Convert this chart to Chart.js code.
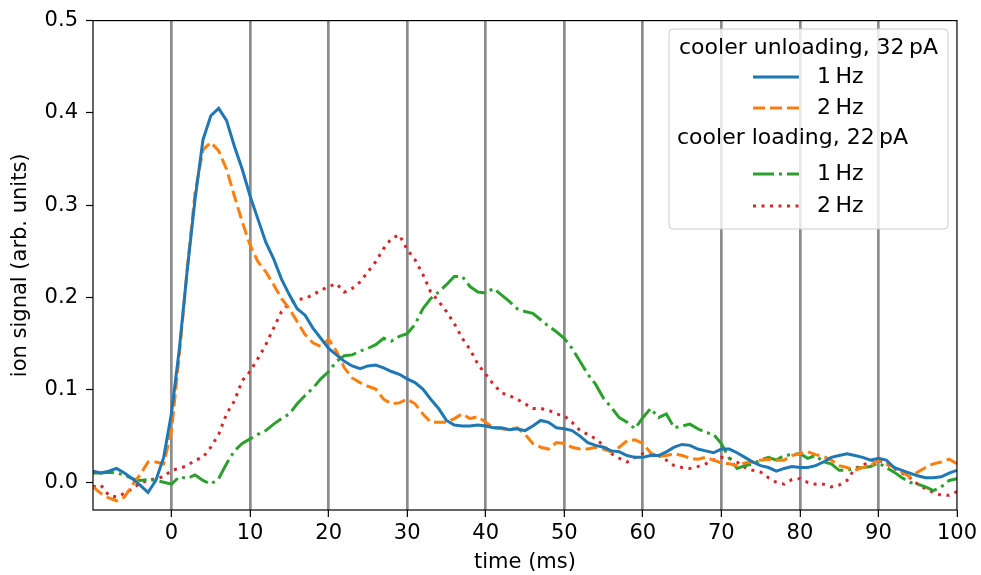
<!DOCTYPE html>
<html>
<head>
<meta charset="utf-8">
<script src="https://cdn.jsdelivr.net/npm/chart.js@4"></script>
<style>
  html, body { margin: 0; padding: 0; background: #fff; }
  canvas { display: block; }
</style>
</head>
<body>
<canvas id="ionChart" width="981" height="575"></canvas>
<script>
// time axis: one sample per ms from -10 to 100
const timeStart = -10;
const timeStep = 1;

// cooler unloading, 32 pA
const unload1Hz = [
  0.012, 0.010, 0.012, 0.015, 0.010, 0.004, -0.003, -0.011, 0.002, 0.027,
  0.075, 0.145, 0.230, 0.307, 0.371, 0.397, 0.405, 0.392, 0.364, 0.339,
  0.310, 0.285, 0.260, 0.242, 0.220, 0.203, 0.188, 0.181, 0.167, 0.156,
  0.145, 0.138, 0.131, 0.126, 0.123, 0.126, 0.127, 0.124, 0.120, 0.117,
  0.112, 0.108, 0.101, 0.090, 0.080, 0.067, 0.062, 0.061, 0.061, 0.062,
  0.061, 0.059, 0.059, 0.057, 0.058, 0.056, 0.061, 0.067, 0.065, 0.059,
  0.058, 0.056, 0.050, 0.043, 0.040, 0.038, 0.034, 0.033, 0.029, 0.027,
  0.027, 0.029, 0.029, 0.033, 0.038, 0.041, 0.040, 0.036, 0.034, 0.032,
  0.036, 0.036, 0.032, 0.027, 0.022, 0.018, 0.016, 0.012, 0.015, 0.017,
  0.016, 0.016, 0.018, 0.022, 0.027, 0.029, 0.031, 0.029, 0.027, 0.024,
  0.026, 0.024, 0.016, 0.013, 0.010, 0.007, 0.005, 0.005, 0.006, 0.010,
  0.013
];
const unload2Hz = [
  -0.005, -0.012, -0.017, -0.020, -0.016, -0.003, 0.008, 0.022, 0.022, 0.020,
  0.056, 0.139, 0.231, 0.314, 0.360, 0.368, 0.359, 0.339, 0.310, 0.282,
  0.257, 0.239, 0.228, 0.214, 0.199, 0.188, 0.174, 0.160, 0.151, 0.147,
  0.155, 0.142, 0.124, 0.113, 0.108, 0.104, 0.101, 0.090, 0.085, 0.086,
  0.090, 0.085, 0.074, 0.065, 0.065, 0.065, 0.069, 0.074, 0.069, 0.071,
  0.065, 0.059, 0.058, 0.057, 0.059, 0.052, 0.042, 0.038, 0.036, 0.043,
  0.042, 0.038, 0.036, 0.036, 0.038, 0.036, 0.033, 0.038, 0.045, 0.046,
  0.042, 0.032, 0.028, 0.029, 0.031, 0.029, 0.026, 0.025, 0.027, 0.024,
  0.021, 0.020, 0.018, 0.021, 0.022, 0.024, 0.025, 0.024, 0.024, 0.029,
  0.031, 0.033, 0.030, 0.028, 0.024, 0.018, 0.016, 0.013, 0.016, 0.018,
  0.024, 0.021, 0.016, 0.011, 0.006, 0.011, 0.016, 0.020, 0.022, 0.025,
  0.020
];

// cooler loading, 22 pA
const load1Hz = [
  0.010, 0.010, 0.011, 0.010, 0.008, 0.004, 0.002, 0.003, 0.002, 0.000,
  -0.002, 0.006, 0.004, 0.008, 0.002, -0.002, 0.004, 0.020, 0.034, 0.042,
  0.047, 0.052, 0.056, 0.063, 0.069, 0.074, 0.085, 0.094, 0.102, 0.112,
  0.120, 0.131, 0.137, 0.138, 0.142, 0.145, 0.149, 0.156, 0.153, 0.158,
  0.161, 0.171, 0.188, 0.199, 0.206, 0.214, 0.223, 0.223, 0.212, 0.206,
  0.205, 0.210, 0.203, 0.196, 0.188, 0.185, 0.183, 0.176, 0.169, 0.163,
  0.156, 0.145, 0.131, 0.117, 0.106, 0.091, 0.081, 0.070, 0.065, 0.058,
  0.070, 0.080, 0.070, 0.074, 0.059, 0.061, 0.063, 0.058, 0.054, 0.052,
  0.042, 0.026, 0.015, 0.018, 0.020, 0.024, 0.027, 0.024, 0.029, 0.030,
  0.031, 0.026, 0.029, 0.022, 0.020, 0.013, 0.013, 0.015, 0.016, 0.017,
  0.021, 0.016, 0.011, 0.005, 0.000, -0.002, -0.005, -0.009, -0.005, 0.002,
  0.004
];
const load2Hz = [
  -0.005, -0.003, -0.014, -0.016, -0.012, -0.007, -0.001, 0.002, 0.004, 0.006,
  0.013, 0.015, 0.018, 0.024, 0.027, 0.038, 0.052, 0.074, 0.088, 0.110,
  0.120, 0.134, 0.149, 0.167, 0.185, 0.194, 0.198, 0.199, 0.203, 0.208,
  0.212, 0.215, 0.206, 0.210, 0.217, 0.228, 0.239, 0.253, 0.264, 0.268,
  0.252, 0.241, 0.225, 0.206, 0.196, 0.185, 0.172, 0.156, 0.144, 0.128,
  0.117, 0.106, 0.097, 0.094, 0.090, 0.085, 0.080, 0.080, 0.078, 0.074,
  0.072, 0.065, 0.056, 0.052, 0.047, 0.040, 0.031, 0.026, 0.022, 0.027,
  0.031, 0.031, 0.029, 0.024, 0.018, 0.016, 0.015, 0.017, 0.020, 0.024,
  0.027, 0.026, 0.022, 0.016, 0.013, 0.011, 0.005, 0.000, -0.002, 0.003,
  0.004, 0.000, -0.002, -0.002, -0.005, -0.003, 0.002, 0.015, 0.018, 0.024,
  0.024, 0.020, 0.015, 0.010, 0.005, -0.002, -0.007, -0.011, -0.014, -0.014,
  -0.010
];

const xTicks = [0, 10, 20, 30, 40, 50, 60, 70, 80, 90, 100];
const yTicks = [0.0, 0.1, 0.2, 0.3, 0.4, 0.5];

const FONT = "'DejaVu Sans', sans-serif";
const FONT_SIZE = 21;
const LEGEND_FONT_SIZE = 22;

function toPoints(values) {
  return values.map((v, i) => ({ x: timeStart + i * timeStep, y: v }));
}

// legend layout: group headings and the entries under them
const legendRows = [
  { text: "cooler unloading, 32\u2009pA", heading: true },
  { text: "1\u2009Hz", color: "#1f77b4", dash: [] },
  { text: "2\u2009Hz", color: "#ff7f0e", dash: [12, 5] },
  { text: "cooler loading, 22\u2009pA", heading: true },
  { text: "1\u2009Hz", color: "#2ca02c", dash: [21, 5, 3, 5] },
  { text: "2\u2009Hz", color: "#d62728", dash: [3, 5.5] }
];

const whiteBackground = {
  id: "whiteBackground",
  beforeDraw(chart) {
    const c = chart.ctx;
    c.save();
    c.fillStyle = "#fff";
    c.fillRect(0, 0, chart.width, chart.height);
    c.restore();
  }
};

// black frame around the plot area, drawn above the curves
const plotFrame = {
  id: "plotFrame",
  afterDatasetsDraw(chart) {
    const a = chart.chartArea;
    const c = chart.ctx;
    c.save();
    c.strokeStyle = "#000";
    c.lineWidth = 1.2;
    c.strokeRect(a.left, a.top, a.right - a.left, a.bottom - a.top);
    c.restore();
  }
};

const groupedLegend = {
  id: "groupedLegend",
  afterDraw(chart) {
    const c = chart.ctx;
    const box = { x: 669, y: 29, w: 279, h: 200 };
    const rowY = [48, 77, 108, 138, 174, 206];
    c.save();
    c.beginPath();
    c.roundRect(box.x, box.y, box.w, box.h, 4);
    c.fillStyle = "rgba(255,255,255,0.8)";
    c.fill();
    c.strokeStyle = "#cccccc";
    c.lineWidth = 1;
    c.stroke();

    c.font = LEGEND_FONT_SIZE + "px " + FONT;
    c.textBaseline = "middle";
    c.fillStyle = "#000";
    legendRows.forEach((row, i) => {
      const y = rowY[i];
      if (row.heading) {
        c.fillText(row.text, box.x + (i === 0 ? 10 : 8), y);
        return;
      }
      c.beginPath();
      c.setLineDash(row.dash);
      c.lineDashOffset = 0;
      c.strokeStyle = row.color;
      c.lineWidth = 3;
      c.lineCap = "butt";
      c.moveTo(753, y);
      c.lineTo(799, y);
      c.stroke();
      c.setLineDash([]);
      c.fillText(row.text, 817, y);
    });
    c.restore();
  }
};

const ctx = document.getElementById("ionChart").getContext("2d");

new Chart(ctx, {
  type: "line",
  data: {
    datasets: [
      { label: "unloading 1 Hz", data: toPoints(unload1Hz), borderColor: "#1f77b4", borderDash: [] },
      { label: "unloading 2 Hz", data: toPoints(unload2Hz), borderColor: "#ff7f0e", borderDash: [12, 5] },
      { label: "loading 1 Hz", data: toPoints(load1Hz), borderColor: "#2ca02c", borderDash: [21, 5, 3, 5] },
      { label: "loading 2 Hz", data: toPoints(load2Hz), borderColor: "#d62728", borderDash: [3, 5.5] }
    ].map(ds => Object.assign(ds, {
      borderWidth: 3,
      pointRadius: 0,
      tension: 0,
      fill: false,
      clip: 0,
      borderCapStyle: "butt"
    }))
  },
  options: {
    responsive: false,
    animation: false,
    devicePixelRatio: 1,
    layout: { padding: { top: 17, right: 21, left: 0, bottom: 0 } },
    plugins: {
      legend: { display: false },
      tooltip: { enabled: false }
    },
    scales: {
      x: {
        type: "linear",
        min: -10,
        max: 100,
        afterBuildTicks: scale => { scale.ticks = xTicks.map(v => ({ value: v })); },
        afterFit: scale => { scale.height = 65; },
        border: { display: false },
        grid: {
          color: c => (c.tick && c.tick.value === 100 ? "rgba(0,0,0,0)" : "#8c8c8c"),
          lineWidth: 2.7,
          tickColor: "#000",
          tickWidth: 1.2,
          tickLength: 7
        },
        ticks: {
          color: "#000",
          font: { family: FONT, size: FONT_SIZE },
          padding: 4,
          maxRotation: 0,
          callback: v => String(v)
        },
        title: {
          display: true,
          text: "time (ms)",
          color: "#000",
          font: { family: FONT, size: FONT_SIZE },
          padding: { top: 0, bottom: 0 }
        }
      },
      y: {
        type: "linear",
        min: -0.03,
        max: 0.5,
        afterBuildTicks: scale => { scale.ticks = yTicks.map(v => ({ value: v })); },
        afterFit: scale => { scale.width = 93; },
        border: { display: false },
        grid: {
          drawOnChartArea: false,
          tickColor: "#000",
          tickWidth: 1.2,
          tickLength: 7
        },
        ticks: {
          color: "#000",
          font: { family: FONT, size: FONT_SIZE },
          padding: 8,
          callback: v => v.toFixed(1)
        },
        title: {
          display: true,
          text: "ion signal (arb. units)",
          color: "#000",
          font: { family: FONT, size: FONT_SIZE },
          padding: { top: 8, bottom: 0 }
        }
      }
    }
  },
  plugins: [whiteBackground, plotFrame, groupedLegend]
});
</script>
</body>
</html>
